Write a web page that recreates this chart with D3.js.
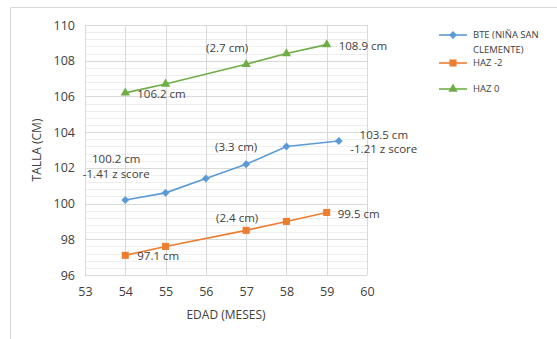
<!DOCTYPE html>
<html>
<head>
<meta charset="utf-8">
<script src="https://cdn.jsdelivr.net/npm/d3@7"></script>
<style>
  html, body { margin: 0; padding: 0; background: #fff; }
  svg { display: block; }
  text { font-family: "Open Sans", "Noto Sans", sans-serif; fill: #404040; }
</style>
</head>
<body>
<svg id="chart" width="557" height="339"></svg>
<script>
// Height-for-age series (months vs cm)
const bteMonths = [54, 55, 56, 57, 58, 59.3];
const bteHeights = [100.2, 100.6, 101.4, 102.2, 103.2, 103.5];
const hazM2Months = [54, 55, 57, 58, 59];
const hazM2Heights = [97.1, 97.6, 98.5, 99.0, 99.5];
const haz0Months = [54, 55, 57, 58, 59];
const haz0Heights = [106.2, 106.7, 107.8, 108.4, 108.9];

const seriesNames = ["BTE (NIÑA SAN CLEMENTE)", "HAZ -2", "HAZ 0"];
const xTicks = [53, 54, 55, 56, 57, 58, 59, 60];
const yTicks = [96, 98, 100, 102, 104, 106, 108, 110];

// Data labels: series, point index, text lines
const pointLabels = [
  { s: 2, i: 0, lines: ["106.2 cm"] },
  { s: 2, i: 2, lines: ["(2.7 cm)"] },
  { s: 2, i: 4, lines: ["108.9 cm"] },
  { s: 0, i: 0, lines: ["100.2 cm", "-1.41 z score"] },
  { s: 0, i: 3, lines: ["(3.3 cm)"] },
  { s: 0, i: 5, lines: ["103.5 cm", "-1.21 z score"] },
  { s: 1, i: 0, lines: ["97.1 cm"] },
  { s: 1, i: 2, lines: ["(2.4 cm)"] },
  { s: 1, i: 4, lines: ["99.5 cm"] }
];

const series = [
  { name: seriesNames[0], xs: bteMonths, ys: bteHeights, color: "#5B9BD5", symbol: d3.symbolDiamond2, size: 40 },
  { name: seriesNames[1], xs: hazM2Months, ys: hazM2Heights, color: "#ED7D31", symbol: d3.symbolSquare, size: 50 },
  { name: seriesNames[2], xs: haz0Months, ys: haz0Heights, color: "#70AD47", symbol: d3.symbolTriangle, size: 38 }
];

// Label placement relative to its point: [anchor, dx, dy per line]
const labelPlacement = [
  ["start", 12, [1]],
  ["middle", -19, [-16]],
  ["start", 12, [1]],
  ["middle", -9, [-41, -26]],
  ["middle", -10, [-17]],
  ["middle", 45, [-6, 8]],
  ["start", 12, [1]],
  ["middle", -9, [-12]],
  ["start", 11, [1]]
];

const svg = d3.select("#chart");

// Chart frame
svg.append("path")
  .attr("d", "M10.5,339 L10.5,7.5 L557,7.5")
  .attr("fill", "none")
  .attr("stroke", "#D9D9D9")
  .attr("stroke-width", 1);

const plot = { left: 85, right: 367, top: 25, bottom: 275 };

const x = d3.scaleLinear().domain([53, 60]).range([plot.left, plot.right]);
const y = d3.scaleLinear().domain([96, 110]).range([plot.bottom, plot.top]);

// Minor horizontal gridlines
const minor = d3.range(96, 110.001, 0.4);
svg.append("g").selectAll("line").data(minor).join("line")
  .attr("x1", plot.left).attr("x2", plot.right)
  .attr("y1", d => Math.round(y(d)) + 0.5).attr("y2", d => Math.round(y(d)) + 0.5)
  .attr("stroke", "#EEEEEE").attr("stroke-width", 1);

// Major gridlines
svg.append("g").selectAll("line").data(yTicks).join("line")
  .attr("x1", plot.left).attr("x2", plot.right)
  .attr("y1", d => Math.round(y(d)) + 0.5).attr("y2", d => Math.round(y(d)) + 0.5)
  .attr("stroke", "#D9D9D9").attr("stroke-width", 1);
svg.append("g").selectAll("line").data(xTicks).join("line")
  .attr("y1", plot.top).attr("y2", plot.bottom)
  .attr("x1", d => Math.round(x(d)) + 0.5).attr("x2", d => Math.round(x(d)) + 0.5)
  .attr("stroke", "#D9D9D9").attr("stroke-width", 1);

// Axes (tick labels only)
const yAxis = svg.append("g")
  .attr("transform", `translate(${plot.left},0)`)
  .call(d3.axisLeft(y).tickValues(yTicks).tickFormat(d3.format("d")).tickSize(0).tickPadding(10));
yAxis.select(".domain").remove();
yAxis.selectAll("text").attr("font-size", 12.5).style("font-family", "'Open Sans', sans-serif").attr("fill", "#404040");

const xAxis = svg.append("g")
  .attr("transform", `translate(0,${plot.bottom})`)
  .call(d3.axisBottom(x).tickValues(xTicks).tickFormat(d3.format("d")).tickSize(0).tickPadding(12));
xAxis.select(".domain").remove();
xAxis.selectAll("text").attr("font-size", 12.5).style("font-family", "'Open Sans', sans-serif").attr("fill", "#404040");

// Axis titles
svg.append("text")
  .attr("x", 226).attr("y", 315).attr("dy", "0.35em")
  .attr("text-anchor", "middle").attr("font-size", 12)
  .text("EDAD (MESES)");
svg.append("text")
  .attr("transform", "translate(37,150) rotate(-90)")
  .attr("dy", "0.35em")
  .attr("text-anchor", "middle").attr("font-size", 12)
  .text("TALLA (CM)");

// Lines and markers
const line = d3.line().x(d => x(d[0])).y(d => y(d[1]));
series.forEach(s => {
  const pts = s.xs.map((m, i) => [m, s.ys[i]]);
  svg.append("path")
    .datum(pts)
    .attr("d", line)
    .attr("fill", "none")
    .attr("stroke", s.color)
    .attr("stroke-width", 1.6);
  svg.append("g").selectAll("path").data(pts).join("path")
    .attr("transform", d => `translate(${x(d[0])},${y(d[1])})`)
    .attr("d", d3.symbol(s.symbol, s.size))
    .attr("fill", s.color);
});

// Data labels
pointLabels.forEach((lab, k) => {
  const s = series[lab.s];
  const px = x(s.xs[lab.i]);
  const py = y(s.ys[lab.i]);
  const [anchor, dx, dys] = labelPlacement[k];
  lab.lines.forEach((t, j) => {
    svg.append("text")
      .attr("x", px + dx).attr("y", py + dys[j]).attr("dy", "0.35em")
      .attr("text-anchor", anchor).attr("font-size", 11.5)
      .text(t);
  });
});

// Legend
const legendRows = [
  { y: 35, lines: ["BTE (NIÑA SAN", "CLEMENTE)"] },
  { y: 63, lines: ["HAZ -2"] },
  { y: 89, lines: ["HAZ 0"] }
];
series.forEach((s, i) => {
  const row = legendRows[i];
  const g = svg.append("g");
  g.append("line")
    .attr("x1", 439).attr("x2", 467).attr("y1", row.y).attr("y2", row.y)
    .attr("stroke", s.color).attr("stroke-width", 1.6);
  g.append("path")
    .attr("transform", `translate(453,${row.y})`)
    .attr("d", d3.symbol(s.symbol, s.size))
    .attr("fill", s.color);
  row.lines.forEach((t, j) => {
    g.append("text")
      .attr("x", 473).attr("y", row.y + j * 15).attr("dy", "0.35em")
      .attr("font-size", 9.5)
      .text(t);
  });
});
</script>
</body>
</html>
